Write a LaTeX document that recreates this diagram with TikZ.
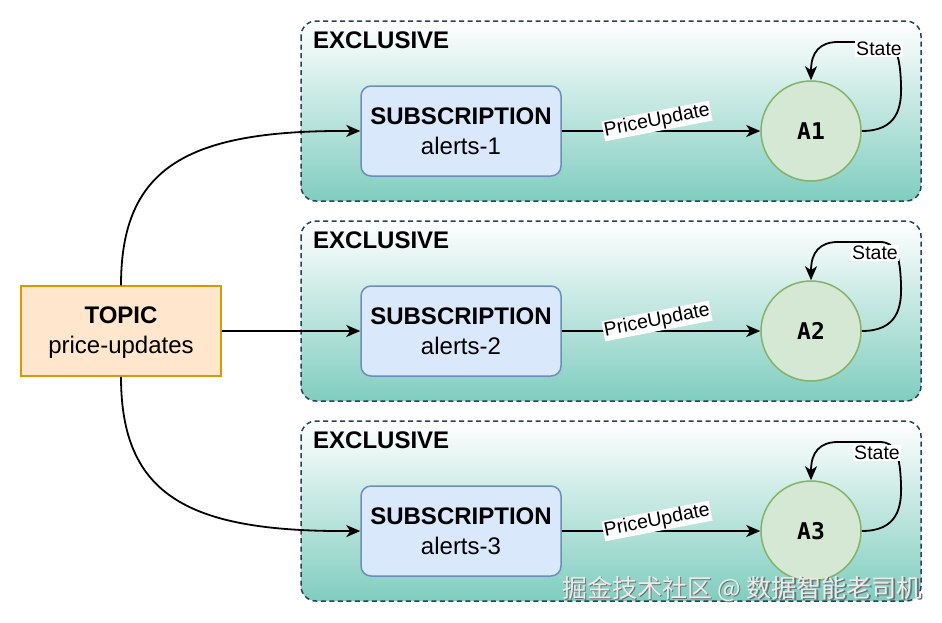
\documentclass[tikz,border=0pt]{standalone}
\usepackage{fontspec}
\setmainfont{Liberation Sans}
\newfontfamily\cjk{Noto Sans CJK SC}
\newfontfamily\monofnt{DejaVu Sans Mono}
\usetikzlibrary{arrows.meta}
\definecolor{grpline}{HTML}{23445D}
\definecolor{grpbot}{RGB}{128,205,191}
\definecolor{subfill}{HTML}{DAE8FC}
\definecolor{subline}{HTML}{6C8EBF}
\definecolor{topfill}{HTML}{FFE6CC}
\definecolor{topline}{HTML}{D79B00}
\definecolor{actfill}{HTML}{D5E8D4}
\definecolor{actline}{HTML}{82B366}
\tikzset{
  grp/.style={draw=grpline, line width=1.5pt, dash pattern=on 5pt off 3.5pt, rounded corners=15pt, top color=white, bottom color=grpbot},
  excl/.style={font=\fontsize{24}{28}\selectfont\bfseries, inner sep=0pt},
  subbox/.style={draw=subline, fill=subfill, line width=1.5pt, rounded corners=10pt, minimum width=200pt, minimum height=90pt, align=center, inner sep=0pt, font=\fontsize{24}{30}\selectfont},
  topicbox/.style={draw=topline, fill=topfill, line width=1.5pt, minimum width=200pt, minimum height=90pt, align=center, inner sep=0pt, font=\fontsize{24}{30}\selectfont},
  actor/.style={circle, draw=actline, fill=actfill, line width=1.5pt, minimum size=100pt, inner sep=0pt, font=\monofnt\bfseries\fontsize{23}{26}\selectfont},
  arr/.style={line width=1.8pt, -{Stealth[length=14pt,width=12pt,inset=4pt]}},
  lbl/.style={fill=white, inner sep=1pt, font=\fontsize{19.5}{22}\selectfont},
  wm/.style={inner sep=0pt, font=\cjk\fontsize{25}{28}\selectfont},
}
\begin{document}
\begin{tikzpicture}[x=1pt,y=-1pt]
\useasboundingbox (0,0) rectangle (942,622);
\fill[white] (0,0) rectangle (942,622);
\foreach \i/\lx/\ly in {1/879/49, 2/875/53, 3/877/53} {
  \pgfmathsetmacro\dy{(\i-1)*200}
  \draw[grp] (301,{21+\dy}) rectangle (921,{201+\dy});
  \node[excl, anchor=base west] (E\i) at (313,{48+\dy}) {EXCLUSIVE};
  \node[subbox] (S\i) at (461,{131+\dy}) {\textbf{SUBSCRIPTION}\\alerts-\i};
  \node[actor] (A\i) at (811,{131+\dy}) {A\i};
  \draw[arr] (S\i) -- (A\i);
  \node[lbl, rotate=11] (P\i) at (657,{121+\dy}) {PriceUpdate};
  \draw[arr] (A\i.east) .. controls (897,{131+\dy}) and (902,{108+\dy}) .. (901,{84+\dy})
     .. controls (900,{56+\dy}) and (896,{42+\dy}) .. (880,{42+\dy})
     -- (838,{42+\dy}) .. controls (820,{42+\dy}) and (811,{52+\dy}) .. (A\i.north);
  \node[lbl] (L\i) at (\lx,{\ly+\dy}) {State};
}
\node[topicbox] (T) at (121,331) {};
\node[font=\fontsize{24}{30}\selectfont, align=center, inner sep=0pt] (TT) at (121,333) {\textbf{TOPIC}\\price-updates};
\draw[arr] (T.north) .. controls (121,165) and (190,130) .. (S1.west);
\draw[arr] (T.east) -- (S2.west);
\draw[arr] (T.south) .. controls (121,497) and (190,532) .. (S3.west);
\node[wm, text=black!55] (W0) at (743.2,590.2) {掘金技术社区 @ 数据智能老司机};
\node[wm, text=white!92!black] (W) at (742,589) {掘金技术社区 @ 数据智能老司机};
\end{tikzpicture}
\end{document}
